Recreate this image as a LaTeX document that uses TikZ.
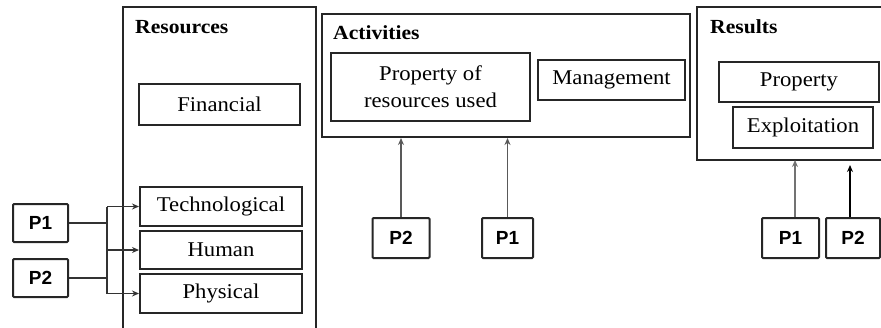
\documentclass[tikz,border=0pt]{standalone}
\usepackage{fontspec}
\setmainfont{Liberation Serif}[FakeStretch=1.08]
\setsansfont{Liberation Sans}
\usetikzlibrary{calc, positioning, arrows.meta}

\tikzset{
    frame/.style={draw=black!85, line width=2pt},
    item/.style={draw=black!85, line width=2pt, fill=white, inner sep=0pt, align=center,
        font=\fontsize{21}{26}\selectfont},
    pbox/.style={draw=black!85, line width=2pt, fill=white, inner sep=0pt, rounded corners=1pt,
        font=\sffamily\bfseries\fontsize{19}{22}\selectfont},
    head/.style={anchor=west, inner sep=0pt, font=\bfseries\fontsize{20}{24}\selectfont},
    link/.style={line width=1.7pt, draw=black!80},
    tip/.style={-{Stealth[length=7pt, width=6pt]}},
}

\begin{document}
\begin{tikzpicture}[x=1pt, y=-1pt]
        \useasboundingbox (0,0) rectangle (881,327);
        % Resources
        \draw[frame] (123,330) -- (123,7) -- (316,7) -- (316,330);
        \node[head] (reshead) at (135,27) {Resources};
        \node[item, minimum width=161pt, minimum height=41pt] (fin) at (219.5,104.5) {Financial};
        \node[item, minimum width=162pt, minimum height=39pt] (tech) at (221,206.5) {Technological};
        \node[item, minimum width=162pt, minimum height=38pt] (hum) at (221,250) {Human};
        \node[item, minimum width=162pt, minimum height=39pt] (phys) at (221,293.5) {Physical};
        \node[pbox, minimum width=55pt, minimum height=38pt] (lp1) at (40.5,223) {P1};
        \node[pbox, minimum width=55pt, minimum height=38pt] (lp2) at (40.5,278) {P2};
        \coordinate (bus) at (107,0);
        \draw[link] (lp1.east) -- (lp1.east -| bus);
        \draw[link] (lp2.east) -- (lp2.east -| bus);
        \draw[link] (bus |- tech.west) -- (bus |- phys.west);
        \foreach \n in {tech, hum, phys} {
            \draw[link,tip] (bus |- \n.west) -- (\n.west);
        }
        % Activities
        \node[frame, minimum width=368pt, minimum height=123pt] (act) at (506,75.5) {};
        \node[head] (acthead) at (333,33) {Activities};
        \node[item, minimum width=199pt, minimum height=68pt, font=\fontsize{21}{27}\selectfont] (prop) at (430.5,87) {Property of\\resources used};
        \node[item, minimum width=147pt, minimum height=40pt] (man) at (611.5,80) {Management};
        \node[pbox, minimum width=57pt, minimum height=40pt] (mp2) at (401,238) {P2};
        \node[pbox, minimum width=51pt, minimum height=40pt] (mp1) at (507.5,238) {P1};
        \draw[link,draw=black!65,tip] (mp2.north) -- (mp2.north |- act.south);
        \draw[link,draw=black!65,tip] (mp1.north) -- (mp1.north |- act.south);
        % Results
        \draw[frame] (885,7) -- (697,7) -- (697,160) -- (885,160);
        \coordinate (resbot) at (0,160);
        \node[head] (rslhead) at (710,27) {Results};
        \node[item, minimum width=160pt, minimum height=40pt] (rprop) at (799,82) {Property};
        \node[item, minimum width=140pt, minimum height=41pt] (expl) at (803,127.5) {Exploitation};
        \node[pbox, minimum width=57pt, minimum height=40pt] (rp1) at (790.5,238) {P1};
        \node[pbox, minimum width=54pt, minimum height=40pt] (rp2) at (853,238) {P2};
        \coordinate (stop) at (0,165);
        \draw[link,draw=black!55,tip] (rp1.north -| 795,0) -- (795,0 |- resbot);
        \draw[link,draw=black,tip] (rp2.north -| 850,0) -- (850,0 |- stop);
    \end{tikzpicture}
\end{document}
